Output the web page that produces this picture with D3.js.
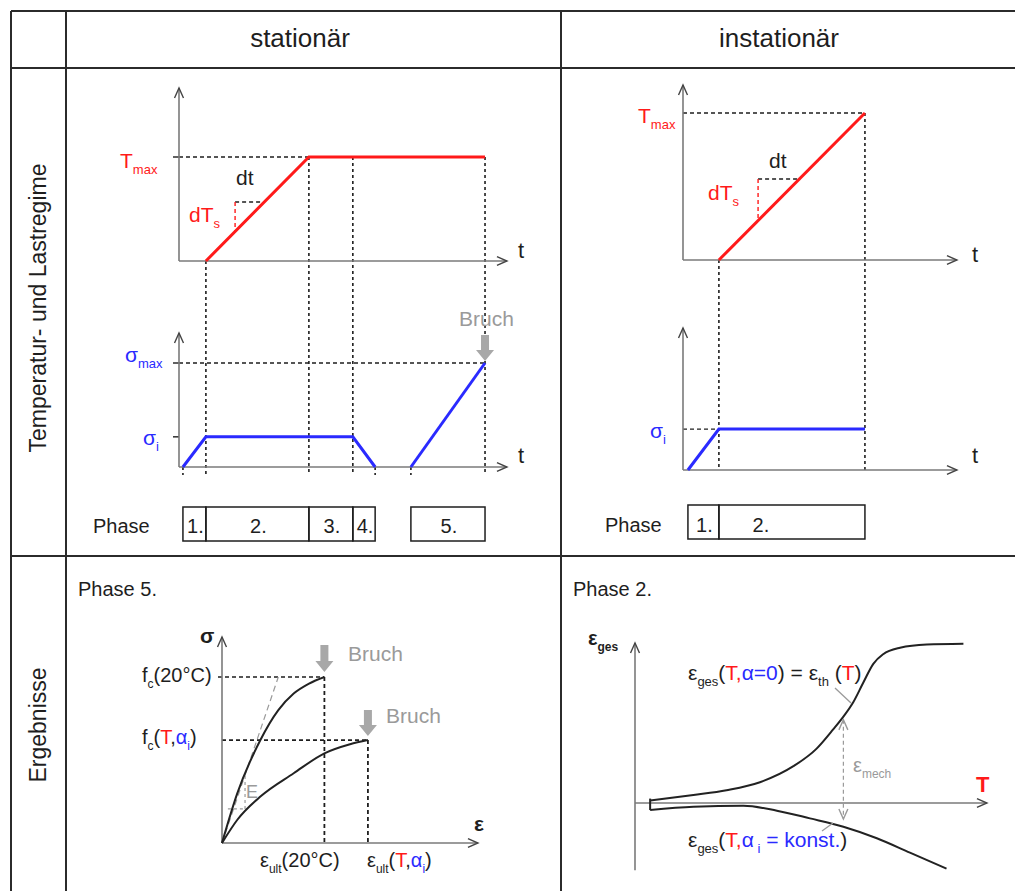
<!DOCTYPE html>
<html>
<head>
<meta charset="utf-8">
<script src="https://cdn.jsdelivr.net/npm/d3@7"></script>
<style>
  body { margin: 0; background: #fff; }
  svg { display: block; font-family: "Liberation Sans", Arial, sans-serif; }
</style>
</head>
<body>
<div id="chart"></div>
<script>
// ---------- data (schematic units) ----------
// time axis runs 0..100 in every regime panel
const statPhaseT = [1.2, 8.2, 39.6, 53, 59.8, 70.7, 93.3];
const statTemp = [[8.2, 0], [39.6, 100], [93.3, 100]];
const statStressA = [[1.2, 0], [8.2, 29], [53, 29], [59.8, 0]];
const statStressB = [[70.7, 0], [93.3, 100]];
const statPhases = [["1.", 1.2, 8.2], ["2.", 8.2, 39.6], ["3.", 39.6, 53], ["4.", 53, 59.8], ["5.", 70.7, 93.3]];
const statSlope = { t: 17.1, T: 56.7 };

const instTemp = [[13.1, 0], [66.4, 100]];
const instStress = [[1.8, 0], [13.1, 29], [66.4, 29]];
const instPhases = [["1.", 1.8, 13.1], ["2.", 13.1, 66.4]];
const instSlope = { t: 27.4, T: 55.1 };

const sigmaI = 29, sigmaMax = 100, tMax = 100;

// stress-strain (epsilon in 0..10, sigma normalised to fc(20°C) = 1)
const curve20 = [[0, 0], [0.6, 0.3], [1.5, 0.62], [2.2, 0.8], [2.8, 0.9], [3.4, 0.96], [4.0, 1.0]];
const curveT = [[0, 0], [0.6, 0.14], [1.5, 0.28], [2.8, 0.42], [4.0, 0.54], [5.0, 0.595], [5.7, 0.62]];
const tangentE = [[0, 0], [2.2, 1.0]];
const fc20 = 1.0, fcT = 0.62, epsUlt20 = 4.0, epsUltT = 5.7;

// total strain vs temperature (T in 0..100)
const epsTherm = [[4.3, 0.015], [16.6, 0.05], [26, 0.08], [35.5, 0.13], [45, 0.23], [51.6, 0.34], [56.3, 0.46],
  [59.2, 0.54], [62, 0.63], [64.8, 0.75], [67.7, 0.87], [70.5, 0.93], [75.3, 0.97], [82.9, 0.99], [93.3, 0.995]];
const epsLoad = [[4.3, -0.044], [16.6, -0.023], [30.8, -0.017], [40.3, -0.048], [49.7, -0.096],
  [59.2, -0.148], [68.7, -0.22], [78.1, -0.31], [88.5, -0.41]];
const epsMechT = 59.2;

// ---------- helpers ----------
const RED = "#ff1a1a", BLUE = "#2a2aff", INK = "#1e1e1e", GRAY = "#9a9a9a", AXIS = "#7a7a7a";

const svg = d3.select("#chart").append("svg")
  .attr("width", 1015).attr("height", 891);

function line(g, x1, y1, x2, y2, stroke, w, dash) {
  return g.append("line")
    .attr("x1", x1).attr("y1", y1).attr("x2", x2).attr("y2", y2)
    .attr("stroke", stroke).attr("stroke-width", w)
    .attr("stroke-dasharray", dash || null);
}

function chevron(g, x0, y0, x1, y1, stroke) {
  const a = Math.atan2(y1 - y0, x1 - x0), L = 11, w = 0.42;
  g.append("path")
    .attr("d", `M${x1 - L * Math.cos(a - w)},${y1 - L * Math.sin(a - w)}L${x1},${y1}L${x1 - L * Math.cos(a + w)},${y1 - L * Math.sin(a + w)}`)
    .attr("fill", "none").attr("stroke", stroke || "#444").attr("stroke-width", 1.4);
}

function axisArrow(g, x0, y0, x1, y1) {
  line(g, x0, y0, x1, y1, AXIS, 1.6);
  chevron(g, x0, y0, x1, y1);
}

function blockArrow(g, x, yTop, yTip) {
  g.append("path")
    .attr("d", `M${x - 4},${yTop}H${x + 4}V${yTip - 11}H${x + 9}L${x},${yTip}L${x - 9},${yTip - 11}H${x - 4}Z`)
    .attr("fill", "#a8a8a8");
}

// text with coloured parts and subscripts
function rich(g, x, y, parts, size, anchor) {
  const t = g.append("text").attr("x", x).attr("y", y)
    .attr("font-size", size).attr("fill", INK)
    .attr("text-anchor", anchor || "start");
  let shift = 0;
  parts.forEach(p => {
    const s = t.append("tspan").text(p.t);
    const want = p.sub ? Math.round(size * 0.3) : 0;
    if (want !== shift) { s.attr("dy", want - shift); shift = want; }
    s.attr("font-size", p.sub ? Math.round(size * 0.62) : size);
    if (p.c) s.attr("fill", p.c);
    if (p.b) s.attr("font-weight", "bold");
  });
  return t;
}

const path = (xs, ys, curve) => d3.line().x(d => xs(d[0])).y(d => ys(d[1])).curve(curve || d3.curveLinear);

// ---------- table frame ----------
const frame = svg.append("g").attr("stroke", "#2b2b2b").attr("stroke-width", 2);
[11, 66, 561].forEach(x => line(frame, x, 11, x, 891, "#2b2b2b", 2));
[11, 68, 556].forEach(y => line(frame, 11, y, 1015, y, "#2b2b2b", 2));

svg.append("text").attr("x", 300).attr("y", 47).attr("text-anchor", "middle")
  .attr("font-size", 26).attr("fill", INK).text("stationär");
svg.append("text").attr("x", 779).attr("y", 47).attr("text-anchor", "middle")
  .attr("font-size", 26).attr("fill", INK).text("instationär");
svg.append("text").attr("transform", "translate(46,308) rotate(-90)").attr("text-anchor", "middle")
  .attr("font-size", 23).attr("fill", INK).text("Temperatur- und Lastregime");
svg.append("text").attr("transform", "translate(46,725) rotate(-90)").attr("text-anchor", "middle")
  .attr("font-size", 23).attr("fill", INK).text("Ergebnisse");

// ---------- stationär ----------
const gS = svg.append("g");
const sx = d3.scaleLinear().domain([0, 100]).range([179, 507]);
const sT = d3.scaleLinear().domain([0, 100]).range([261, 157]);
const sS = d3.scaleLinear().domain([0, 100]).range([467, 363]);
const sBottom = sS(0) + 8;

// guides
line(gS, sx(0), sT(tMax), sx(statTemp[1][0]), sT(tMax), INK, 1.4, "4,3");
line(gS, sx(0) - 6, sT(tMax), sx(0), sT(tMax), INK, 1.4);
line(gS, sx(0), sS(sigmaMax), sx(statStressB[1][0]), sS(sigmaMax), INK, 1.4, "4,3");
line(gS, sx(0) - 6, sS(sigmaMax), sx(0), sS(sigmaMax), INK, 1.4);
line(gS, sx(0) - 6, sS(sigmaI), sx(0), sS(sigmaI), INK, 1.4);
statPhaseT.forEach((t, i) => {
  let top = sS(0);
  if (i === 1) top = sT(0);
  if (i === 2 || i === 3 || i === 6) top = sT(tMax);
  line(gS, sx(t), top, sx(t), sBottom, INK, 1.6, "3,3");
});

axisArrow(gS, sx(0), sT(0), sx(0), 88);
axisArrow(gS, sx(0), sT(0), sx(100), sT(0));
axisArrow(gS, sx(0), sS(0), sx(0), 333);
axisArrow(gS, sx(0), sS(0), sx(100), sS(0));

// slope triangle
const sRamp = statTemp[0], sKnee = statTemp[1];
const sLineT = t => (t - sRamp[0]) / (sKnee[0] - sRamp[0]) * tMax;
const sLineTinv = T => sRamp[0] + T / tMax * (sKnee[0] - sRamp[0]);
line(gS, sx(statSlope.t), sT(statSlope.T), sx(sLineTinv(statSlope.T)), sT(statSlope.T), INK, 1.4, "4,3");
line(gS, sx(statSlope.t), sT(statSlope.T), sx(statSlope.t), sT(sLineT(statSlope.t)), RED, 1.4, "4,3");

gS.append("path").attr("d", path(sx, sT)(statTemp)).attr("fill", "none").attr("stroke", RED).attr("stroke-width", 3);
gS.append("path").attr("d", path(sx, sS)(statStressA)).attr("fill", "none").attr("stroke", BLUE).attr("stroke-width", 3);
gS.append("path").attr("d", path(sx, sS)(statStressB)).attr("fill", "none").attr("stroke", BLUE).attr("stroke-width", 3);

rich(gS, 120, 168, [{ t: "T", c: RED }, { t: "max", c: RED, sub: true }], 21);
rich(gS, 236, 185, [{ t: "dt" }], 21);
rich(gS, 189, 222, [{ t: "dT", c: RED }, { t: "s", c: RED, sub: true }], 21);
rich(gS, 518, 258, [{ t: "t" }], 22);
rich(gS, 125, 362, [{ t: "σ", c: BLUE }, { t: "max", c: BLUE, sub: true }], 21);
rich(gS, 143, 445, [{ t: "σ", c: BLUE }, { t: "i", c: BLUE, sub: true }], 21);
rich(gS, 518, 463, [{ t: "t" }], 22);
gS.append("text").attr("x", 459).attr("y", 326).attr("font-size", 21).attr("fill", GRAY).text("Bruch");
blockArrow(gS, sx(statStressB[1][0]), 335, sS(sigmaMax) - 2);

// phase boxes
gS.append("text").attr("x", 93).attr("y", 533).attr("font-size", 20).attr("fill", INK).text("Phase");
statPhases.forEach(p => {
  gS.append("rect").attr("x", sx(p[1])).attr("y", 507).attr("width", sx(p[2]) - sx(p[1])).attr("height", 34)
    .attr("fill", "none").attr("stroke", INK).attr("stroke-width", 1.5);
  gS.append("text").attr("x", (sx(p[1]) + sx(p[2])) / 2 + 1).attr("y", 533).attr("text-anchor", "middle")
    .attr("font-size", 20).attr("fill", INK).text(p[0]);
});

// ---------- instationär ----------
const gI = svg.append("g");
const ix = d3.scaleLinear().domain([0, 100]).range([683, 957]);
const iT = d3.scaleLinear().domain([0, 100]).range([260, 113]);
const iS = d3.scaleLinear().domain([0, 100]).range([470, 329]);

line(gI, ix(0), iT(tMax), ix(instTemp[1][0]), iT(tMax), INK, 1.4, "4,3");
line(gI, ix(0), iS(sigmaI), ix(instStress[1][0]), iS(sigmaI), INK, 1.4, "4,3");
line(gI, ix(instTemp[0][0]), iT(0), ix(instTemp[0][0]), iS(0), INK, 1.6, "3,3");
line(gI, ix(instTemp[1][0]), iT(tMax), ix(instTemp[1][0]), iS(0), INK, 1.6, "3,3");

axisArrow(gI, ix(0), iT(0), ix(0), 85);
axisArrow(gI, ix(0), iT(0), ix(100), iT(0));
axisArrow(gI, ix(0), iS(0), ix(0), 328);
axisArrow(gI, ix(0), iS(0), ix(100), iS(0));

const iA = instTemp[0], iB = instTemp[1];
const iLineT = t => (t - iA[0]) / (iB[0] - iA[0]) * tMax;
const iLineTinv = T => iA[0] + T / tMax * (iB[0] - iA[0]);
line(gI, ix(instSlope.t), iT(instSlope.T), ix(iLineTinv(instSlope.T)), iT(instSlope.T), INK, 1.4, "4,3");
line(gI, ix(instSlope.t), iT(instSlope.T), ix(instSlope.t), iT(iLineT(instSlope.t)), RED, 1.4, "4,3");

gI.append("path").attr("d", path(ix, iT)(instTemp)).attr("fill", "none").attr("stroke", RED).attr("stroke-width", 3);
gI.append("path").attr("d", path(ix, iS)(instStress)).attr("fill", "none").attr("stroke", BLUE).attr("stroke-width", 3);

rich(gI, 638, 123, [{ t: "T", c: RED }, { t: "max", c: RED, sub: true }], 21);
rich(gI, 769, 168, [{ t: "dt" }], 21);
rich(gI, 708, 200, [{ t: "dT", c: RED }, { t: "s", c: RED, sub: true }], 21);
rich(gI, 972, 262, [{ t: "t" }], 22);
rich(gI, 650, 438, [{ t: "σ", c: BLUE }, { t: "i", c: BLUE, sub: true }], 21);
rich(gI, 972, 463, [{ t: "t" }], 22);

gI.append("text").attr("x", 605).attr("y", 532).attr("font-size", 20).attr("fill", INK).text("Phase");
instPhases.forEach((p, i) => {
  gI.append("rect").attr("x", ix(p[1])).attr("y", 505).attr("width", ix(p[2]) - ix(p[1])).attr("height", 34)
    .attr("fill", "none").attr("stroke", INK).attr("stroke-width", 1.5);
  const cx = i === 0 ? (ix(p[1]) + ix(p[2])) / 2 + 1 : ix(p[1]) + 42;
  gI.append("text").attr("x", cx).attr("y", 532).attr("text-anchor", "middle")
    .attr("font-size", 20).attr("fill", INK).text(p[0]);
});

// ---------- Ergebnisse: Phase 5 ----------
const gE = svg.append("g");
const ex = d3.scaleLinear().domain([0, 10]).range([222, 478]);
const ey = d3.scaleLinear().domain([0, 1]).range([843, 677]);

gE.append("text").attr("x", 78).attr("y", 596).attr("font-size", 20).attr("fill", INK).text("Phase 5.");

line(gE, ex(0) - 4, ey(fc20), ex(epsUlt20), ey(fc20), INK, 1.6, "4,3");
line(gE, ex(0), ey(fcT), ex(epsUltT), ey(fcT), INK, 1.6, "4,3");
line(gE, ex(epsUlt20), ey(fc20), ex(epsUlt20), ey(0), INK, 1.8, "4,3");
line(gE, ex(epsUltT), ey(fcT), ex(epsUltT), ey(0), INK, 1.8, "4,3");

gE.append("path").attr("d", path(ex, ey)(tangentE)).attr("fill", "none").attr("stroke", GRAY)
  .attr("stroke-width", 1.2).attr("stroke-dasharray", "6,4");
line(gE, ex(0.23), ey(0.205), ex(0.9), ey(0.205), GRAY, 1.2, "3,3");
line(gE, ex(0.9), ey(0.205), ex(0.9), ey(0.9 / 2.2), GRAY, 1.2, "3,3");

axisArrow(gE, ex(0), ey(0), ex(0), 637);
axisArrow(gE, ex(0), ey(0), ex(10), ey(0));

gE.append("path").attr("d", path(ex, ey, d3.curveMonotoneX)(curve20)).attr("fill", "none").attr("stroke", "#222").attr("stroke-width", 2);
gE.append("path").attr("d", path(ex, ey, d3.curveMonotoneX)(curveT)).attr("fill", "none").attr("stroke", "#222").attr("stroke-width", 2);

blockArrow(gE, ex(epsUlt20), 645, ey(fc20) - 5);
blockArrow(gE, ex(epsUltT), 710, ey(fcT) - 4);
gE.append("text").attr("x", 348).attr("y", 661).attr("font-size", 21).attr("fill", GRAY).text("Bruch");
gE.append("text").attr("x", 386).attr("y", 723).attr("font-size", 21).attr("fill", GRAY).text("Bruch");
gE.append("text").attr("x", 246).attr("y", 798).attr("font-size", 18).attr("fill", GRAY).text("E");

rich(gE, 200, 643, [{ t: "σ", b: true }], 21);
rich(gE, 474, 831, [{ t: "ε", b: true }], 21);
rich(gE, 142, 682, [{ t: "f" }, { t: "c", sub: true }, { t: "(20°C)" }], 20);
rich(gE, 142, 744, [{ t: "f" }, { t: "c", sub: true }, { t: "(" }, { t: "T", c: RED }, { t: "," }, { t: "α", c: BLUE }, { t: "i", c: BLUE, sub: true }, { t: ")" }], 20);
rich(gE, 260, 867, [{ t: "ε" }, { t: "ult", sub: true }, { t: "(20°C)" }], 20);
rich(gE, 367, 867, [{ t: "ε" }, { t: "ult", sub: true }, { t: "(" }, { t: "T", c: RED }, { t: "," }, { t: "α", c: BLUE }, { t: "i", c: BLUE, sub: true }, { t: ")" }], 20);

// ---------- Ergebnisse: Phase 2 ----------
const gP = svg.append("g");
const tx = d3.scaleLinear().domain([0, 100]).range([635, 987]);
const ty = d3.scaleLinear().domain([0, 1]).range([803, 643]);

gP.append("text").attr("x", 573).attr("y", 596).attr("font-size", 20).attr("fill", INK).text("Phase 2.");

axisArrow(gP, tx(0), ty(-0.42), tx(0), ty(1));
axisArrow(gP, tx(0), ty(0), tx(100), ty(0));

gP.append("path").attr("d", path(tx, ty, d3.curveMonotoneX)(epsTherm)).attr("fill", "none").attr("stroke", "#222").attr("stroke-width", 2);
gP.append("path").attr("d", path(tx, ty, d3.curveMonotoneX)(epsLoad)).attr("fill", "none").attr("stroke", "#222").attr("stroke-width", 2);
line(gP, tx(epsTherm[0][0]), ty(epsTherm[0][1]) - 2, tx(epsLoad[0][0]), ty(epsLoad[0][1]), "#222", 2);

// mechanical strain arrow
const mTop = ty(0.52), mBot = ty(-0.1);
line(gP, tx(epsMechT), mTop, tx(epsMechT), mBot, GRAY, 1.2, "4,3");
chevron(gP, tx(epsMechT), mBot, tx(epsMechT), mTop, GRAY);
chevron(gP, tx(epsMechT), mTop, tx(epsMechT), mBot, GRAY);
rich(gP, 853, 772, [{ t: "ε", c: GRAY }, { t: "mech", c: GRAY, sub: true }], 20);

// leaders
line(gP, 835, 688, 851, 703, GRAY, 1.3);
line(gP, 822, 831, 833, 823, GRAY, 1.3);

rich(gP, 588, 645, [{ t: "ε", b: true }, { t: "ges", b: true, sub: true }], 20);
rich(gP, 976, 792, [{ t: "T", c: RED, b: true }], 22);
rich(gP, 688, 680, [{ t: "ε" }, { t: "ges", sub: true }, { t: "(" }, { t: "T", c: RED }, { t: ",", c: RED }, { t: "α=0", c: BLUE },
  { t: ") = ε" }, { t: "th", sub: true }, { t: " (" }, { t: "T", c: RED }, { t: ")" }], 21);
rich(gP, 688, 847, [{ t: "ε" }, { t: "ges", sub: true }, { t: "(" }, { t: "T", c: RED }, { t: ",", c: RED }, { t: "α", c: BLUE },
  { t: " i", c: BLUE, sub: true }, { t: " = konst.", c: BLUE }, { t: ")" }], 21);
</script>
</body>
</html>
